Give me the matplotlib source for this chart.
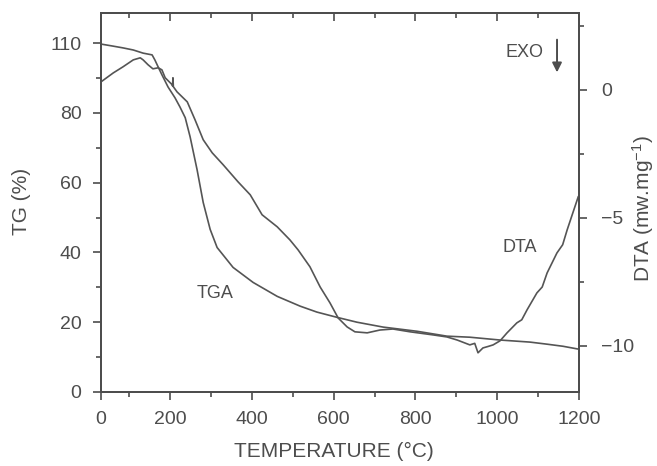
import matplotlib
matplotlib.use("Agg")
import matplotlib.pyplot as plt

plt.rcParams['font.family'] = ['Liberation Sans', 'DejaVu Sans']
plt.rcParams['mathtext.default'] = 'regular'

# TG curve (temperature in degC, mass in %)
tg_temp = [31, 61, 85, 110, 134, 156, 163, 171, 180, 195, 212, 224, 237, 249,
           266, 281, 298, 315, 354, 403, 462, 518, 559, 608, 657, 721, 804,
           877, 933, 1006, 1080, 1122, 1161, 1198]
tg_mass = [99.7, 99.1, 98.6, 98.0, 97.1, 96.6, 95.1, 93.1, 90.9, 87.4, 84.3,
           81.7, 78.6, 73.1, 63.7, 54.3, 46.6, 41.4, 35.7, 31.4, 27.4, 24.6,
           22.9, 21.4, 20.0, 18.6, 17.4, 16.0, 15.7, 14.9, 14.3, 13.7, 13.1, 12.3]

# DTA curve (temperature in degC, signal in mW/mg)
dta_temp = [31, 61, 85, 110, 127, 134, 146, 158, 171, 180, 188, 205, 206, 207,
            208, 217, 242, 261, 281, 303, 330, 366, 396, 425, 462, 493, 513,
            542, 567, 591, 611, 633, 652, 682, 713, 745, 787, 843, 877, 902,
            933, 945, 953, 965, 978, 990, 1007, 1024, 1048, 1060, 1073, 1097,
            1110, 1122, 1146, 1160, 1171, 1185, 1198]
dta_val = [0.31, 0.66, 0.90, 1.17, 1.25, 1.17, 0.98, 0.82, 0.86, 0.78, 0.47,
           0.20, 0.15, 0.47, 0.12, -0.08, -0.47, -1.17, -1.95, -2.46, -2.93,
           -3.59, -4.10, -4.88, -5.35, -5.86, -6.25, -6.91, -7.70, -8.32,
           -8.91, -9.26, -9.45, -9.49, -9.38, -9.34, -9.45, -9.57, -9.65,
           -9.77, -9.96, -9.90, -10.27, -10.08, -10.02, -9.96, -9.80, -9.49,
           -9.10, -8.98, -8.59, -7.93, -7.70, -7.15, -6.37, -6.05, -5.47,
           -4.80, -4.18]

x_ticks = [31, 200, 400, 600, 800, 1000, 1200]
x_labels = ['0', '200', '400', '600', '800', '1000', '1200']
tg_ticks = [0, 20, 40, 60, 80, 100]
tg_labels = ['0', '20', '40', '60', '80', '110']
dta_ticks = [-10, -5, 0]

ink = '#4d4d4d'
line_col = '#555555'

fig = plt.figure(figsize=(6.57, 4.66), dpi=100)
ax = fig.add_axes([0.1537, 0.1588, 0.7276, 0.8133])
ax2 = ax.twinx()

ax.plot(tg_temp, tg_mass, color=line_col, lw=1.2)
ax2.plot(dta_temp, dta_val, color=line_col, lw=1.2)

ax.set_xlim(31, 1200)
ax.set_ylim(0, 108.6)
ax2.set_ylim(-11.8, 3.0)

ax.set_xticks(x_ticks)
ax.set_xticklabels(x_labels)
ax.set_xticks([100, 300, 500, 700, 900, 1100], minor=True)
ax.set_yticks(tg_ticks)
ax.set_yticklabels(tg_labels)
ax.set_yticks([10, 30, 50, 70, 90], minor=True)
ax2.set_yticks(dta_ticks)
ax2.set_yticklabels(['\u221210', '\u22125', '0'])
ax2.set_yticks([-7.5, -2.5, 2.5], minor=True)

for a in (ax, ax2):
    for s in a.spines.values():
        s.set_color(ink)
        s.set_linewidth(1.4)
    a.tick_params(which='major', length=6, width=1.2, color=ink,
                  labelcolor=ink, labelsize=14, direction='out')
    a.tick_params(which='minor', length=3.5, width=1.2, color=ink,
                  direction='out')
ax.tick_params(axis='x', which='major', pad=8)
ax.tick_params(axis='y', which='major', pad=8)
ax2.tick_params(axis='y', which='major', pad=10)

# inward ticks on the top spine
top = ax.secondary_xaxis('top')
top.set_xticks([200, 400, 600, 800, 1000])
top.set_xticks([100, 300, 500, 700, 900, 1100], minor=True)
top.tick_params(which='major', direction='in', length=6, width=1.2,
                color=ink, labeltop=False)
top.tick_params(which='minor', direction='in', length=3.5, width=1.2,
                color=ink)
top.spines['top'].set_visible(False)

ax.text(-0.167, 0.504, 'TG (%)', transform=ax.transAxes, rotation=90,
        ha='center', va='center', fontsize=15, color=ink)
ax.text(1.134, 0.483, 'DTA (mw.mg$^{-1}$)', transform=ax.transAxes,
        rotation=90, ha='center', va='center', fontsize=15, color=ink)
ax.text(0.487, -0.158, 'TEMPERATURE (\u00b0C)', transform=ax.transAxes,
        ha='center', va='center', fontsize=15, color=ink)

ax.text(0.238, 0.261, 'TGA', transform=ax.transAxes, ha='center',
        va='center', fontsize=13, color=ink)
ax.text(0.877, 0.380, 'DTA', transform=ax.transAxes, ha='center',
        va='center', fontsize=13, color=ink)
ax.text(0.885, 0.895, 'EXO', transform=ax.transAxes, ha='center',
        va='center', fontsize=13, color=ink)
ax.annotate('', xy=(0.954, 0.836), xytext=(0.954, 0.937),
            xycoords='axes fraction',
            arrowprops=dict(arrowstyle='-|>', color=ink, lw=1.4,
                            mutation_scale=14))

fig.savefig('out.png', dpi=100)
